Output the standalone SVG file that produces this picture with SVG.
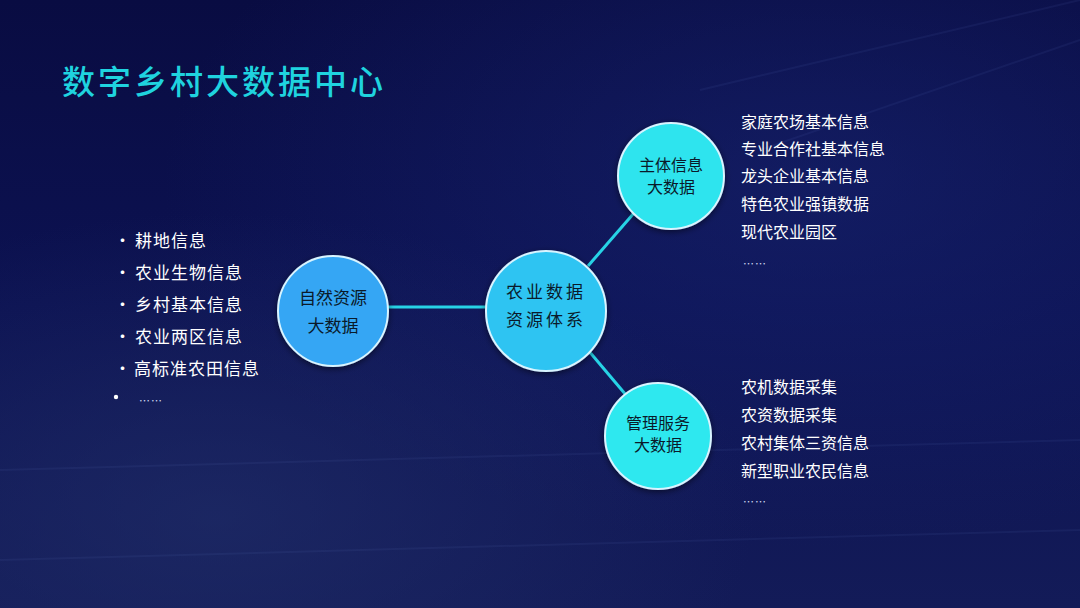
<svg xmlns="http://www.w3.org/2000/svg" width="1080" height="608" viewBox="0 0 1080 608">
<defs>
<linearGradient id="bg" x1="0" y1="0" x2="0" y2="1">
<stop offset="0" stop-color="#090c42"/>
<stop offset="0.5" stop-color="#0c1252"/>
<stop offset="1" stop-color="#131b58"/>
</linearGradient>
<radialGradient id="glow" cx="0.75" cy="0.3" r="0.6">
<stop offset="0" stop-color="#1a2878" stop-opacity="0.5"/>
<stop offset="1" stop-color="#1a2878" stop-opacity="0"/>
</radialGradient>
<radialGradient id="glow2" cx="0.2" cy="0.85" r="0.5">
<stop offset="0" stop-color="#22306a" stop-opacity="0.6"/>
<stop offset="1" stop-color="#22306a" stop-opacity="0"/>
</radialGradient>
<filter id="sh" x="-20%" y="-20%" width="140%" height="140%">
<feDropShadow dx="0" dy="2" stdDeviation="3" flood-color="#000" flood-opacity="0.5"/>
</filter>
</defs>
<style>
.t{font-family:"Noto Sans CJK SC","Noto Sans",sans-serif}
.title{font-size:33px;fill:#1fd3df;font-weight:500;letter-spacing:3px}
.li{font-size:17px;fill:#ffffff;letter-spacing:1px}
.ri{font-size:16px;fill:#ffffff}
.nt{font-size:16px;fill:#0a1a2a;text-anchor:middle}
.nt2{font-size:17px}
.node{stroke:#d8f4ff;stroke-width:2;filter:url(#sh)}
.con{stroke:#27d3e6;stroke-width:3;fill:none}
.dots{font-size:11px;fill:#d0d8f0;letter-spacing:1px}
</style>
<rect width="1080" height="608" fill="url(#bg)"/>
<rect width="1080" height="608" fill="url(#glow)"/>
<rect width="1080" height="608" fill="url(#glow2)"/>
<g opacity="0.08" stroke="#6f86d8" stroke-width="2" fill="none">
<path d="M700 90 L1080 0"/>
<path d="M760 150 L1080 40"/>
<path d="M0 470 L1080 440"/>
<path d="M0 560 L1080 530"/>
</g>
<text class="t title" x="62" y="94">数字乡村大数据中心</text>
<g id="connectors">
<line class="con" x1="387" y1="307" x2="488" y2="307"/>
<line class="con" x1="588" y1="266" x2="634" y2="213"/>
<line class="con" x1="588" y1="350" x2="626" y2="395"/>
</g>
<g id="node-natural">
<circle class="node" cx="333" cy="311" r="55" fill="#36a6f4"/>
<text class="t nt nt2" x="333" y="304">自然资源</text>
<text class="t nt nt2" x="333" y="332">大数据</text>
</g>
<g id="node-center">
<circle class="node" cx="546" cy="311" r="60" fill="#2ec4f2"/>
<text class="t nt nt2" x="546" y="298" letter-spacing="3">农业数据</text>
<text class="t nt nt2" x="546" y="326" letter-spacing="3">资源体系</text>
</g>
<g id="node-subject">
<circle class="node" cx="671" cy="176" r="53" fill="#2ee4ee"/>
<text class="t nt" x="671" y="171">主体信息</text>
<text class="t nt" x="671" y="193">大数据</text>
</g>
<g id="node-manage">
<circle class="node" cx="658" cy="436" r="53" fill="#2ee8ef"/>
<text class="t nt" x="658" y="429">管理服务</text>
<text class="t nt" x="658" y="451">大数据</text>
</g>
<g id="left-list">
<text class="t li" x="114" y="247">·</text><text class="t li" x="135" y="247">耕地信息</text>
<text class="t li" x="114" y="279">·</text><text class="t li" x="135" y="279">农业生物信息</text>
<text class="t li" x="114" y="311">·</text><text class="t li" x="135" y="311">乡村基本信息</text>
<text class="t li" x="114" y="343">·</text><text class="t li" x="135" y="343">农业两区信息</text>
<text class="t li" x="114" y="375">·</text><text class="t li" x="134" y="375">高标准农田信息</text>
<circle cx="116" cy="397" r="2.2" fill="#ffffff"/>
<text class="t dots" x="139" y="405">……</text>
</g>
<g id="top-list">
<text class="t ri" x="741" y="128">家庭农场基本信息</text>
<text class="t ri" x="741" y="155">专业合作社基本信息</text>
<text class="t ri" x="741" y="182">龙头企业基本信息</text>
<text class="t ri" x="741" y="210">特色农业强镇数据</text>
<text class="t ri" x="741" y="238">现代农业园区</text>
<text class="t dots" x="743" y="268">……</text>
</g>
<g id="bottom-list">
<text class="t ri" x="741" y="393">农机数据采集</text>
<text class="t ri" x="741" y="421">农资数据采集</text>
<text class="t ri" x="741" y="449">农村集体三资信息</text>
<text class="t ri" x="741" y="477">新型职业农民信息</text>
<text class="t dots" x="743" y="506">……</text>
</g>
</svg>
